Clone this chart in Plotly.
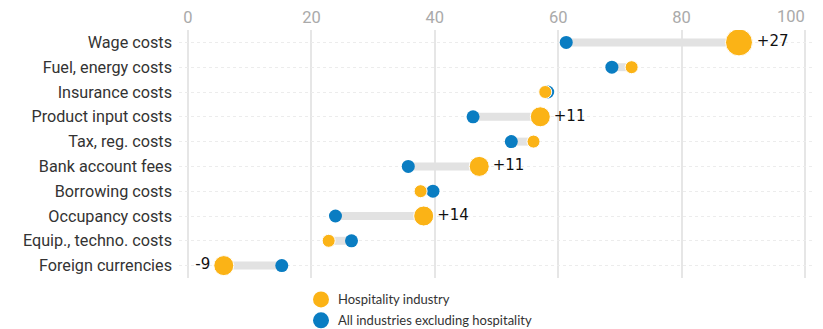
import plotly.graph_objects as go

categories = ["Wage costs", "Fuel, energy costs", "Insurance costs", "Product input costs",
              "Tax, reg. costs", "Bank account fees", "Borrowing costs", "Occupancy costs",
              "Equip., techno. costs", "Foreign currencies"]
hospitality = [89.3, 71.9, 57.9, 57.1, 56.0, 47.2, 37.7, 38.2, 22.8, 5.8]
all_excl = [61.3, 68.7, 58.3, 46.2, 52.4, 35.7, 39.7, 23.9, 26.5, 15.2]
gap_labels = ["+27", "", "", "+11", "", "+11", "", "+14", "", "-9"]
x_ticks = [0, 20, 40, 60, 80, 100]
legend_names = ["Hospitality industry", "All industries excluding hospitality"]

ORANGE = "#FBB316"
BLUE = "#0A7DC2"
TICK_FONT = dict(family="Roboto", size=16.5, color="#aaaaaa")

# the page body adds an 8px offset; figure is sized to fill the rest of the window
OFF = 8
W, H = 823 - OFF, 329 - OFF
ML, MR, MT, MB = 179 - OFF, 9, 29.5 - OFF, 50.5
PW, PH = W - ML - MR, H - MT - MB

# connector lines
cx, cy = [], []
for c, h, a in zip(categories, hospitality, all_excl):
    cx += [a, h, None]
    cy += [c, c, None]

def osize(lbl):
    if not lbl:
        return 13
    return max(20, abs(int(lbl)))

orange_sizes = [osize(l) for l in gap_labels]
text_pos = ["middle left" if l.startswith("-") else "middle right" for l in gap_labels]

# last tick label is drawn right-aligned to its gridline (kept inside the chart)
tick_text = [str(t) for t in x_ticks]
last_tick = tick_text[-1]
tick_text[-1] = ""

fig = go.Figure()
fig.add_trace(go.Scatter(x=cx, y=cy, mode="lines", line=dict(color="#e2e2e2", width=8),
                         showlegend=False, hoverinfo="skip"))
fig.add_trace(go.Scatter(x=all_excl, y=categories, mode="markers", name=legend_names[1],
                         marker=dict(color=BLUE, size=13, opacity=1), showlegend=False))
fig.add_trace(go.Scatter(x=hospitality, y=categories, mode="markers+text", name=legend_names[0],
                         marker=dict(color=ORANGE, size=orange_sizes, opacity=1),
                         text=gap_labels, textposition=text_pos,
                         textfont=dict(family="DejaVu Sans", size=15, color="#111"),
                         showlegend=False))

fig.add_annotation(text=last_tick, xref="x", yref="paper", x=x_ticks[-1], y=1,
                   xanchor="right", yanchor="middle", yshift=14, xshift=2,
                   showarrow=False, font=TICK_FONT)

# manual legend (below the plot), positions given in window pixels
def px_to_paper_x(px):
    return (px - OFF - ML) / PW

def px_to_paper_y(py):
    return (H - MB - (py - OFF)) / PH

for name, color, py in zip(legend_names, [ORANGE, BLUE], [300, 321]):
    fig.add_shape(type="circle", xref="paper", yref="paper",
                  xsizemode="pixel", ysizemode="pixel",
                  xanchor=px_to_paper_x(321), yanchor=px_to_paper_y(py),
                  x0=-8, x1=8, y0=-8, y1=8,
                  fillcolor=color, line=dict(width=0))
    fig.add_annotation(text=name, xref="paper", yref="paper",
                       x=px_to_paper_x(336), y=px_to_paper_y(py),
                       xanchor="left", yanchor="middle", showarrow=False,
                       font=dict(family="Lato", size=13, color="#333"))

fig.update_layout(
    width=W, height=H,
    margin=dict(l=ML, r=MR, t=MT, b=MB, autoexpand=False),
    plot_bgcolor="white", paper_bgcolor="white",
    showlegend=False,
    xaxis=dict(side="top", range=[-1.46, 101.46], tickvals=x_ticks, ticktext=tick_text,
               automargin=False, tickfont=TICK_FONT, ticklabelstandoff=3,
               showgrid=True, gridcolor="#e6e6e6", gridwidth=1.5,
               zeroline=False, showline=False, ticks=""),
    yaxis=dict(type="category", categoryorder="array", categoryarray=categories,
               range=[9.5, -0.5], automargin=False,
               tickfont=dict(family="Roboto", size=16.2, color="#333"),
               showgrid=True, gridcolor="#ececec", griddash="dot", gridwidth=1,
               zeroline=False, showline=False, ticks="", ticklabelstandoff=6),
)

fig.write_html("out.html")
